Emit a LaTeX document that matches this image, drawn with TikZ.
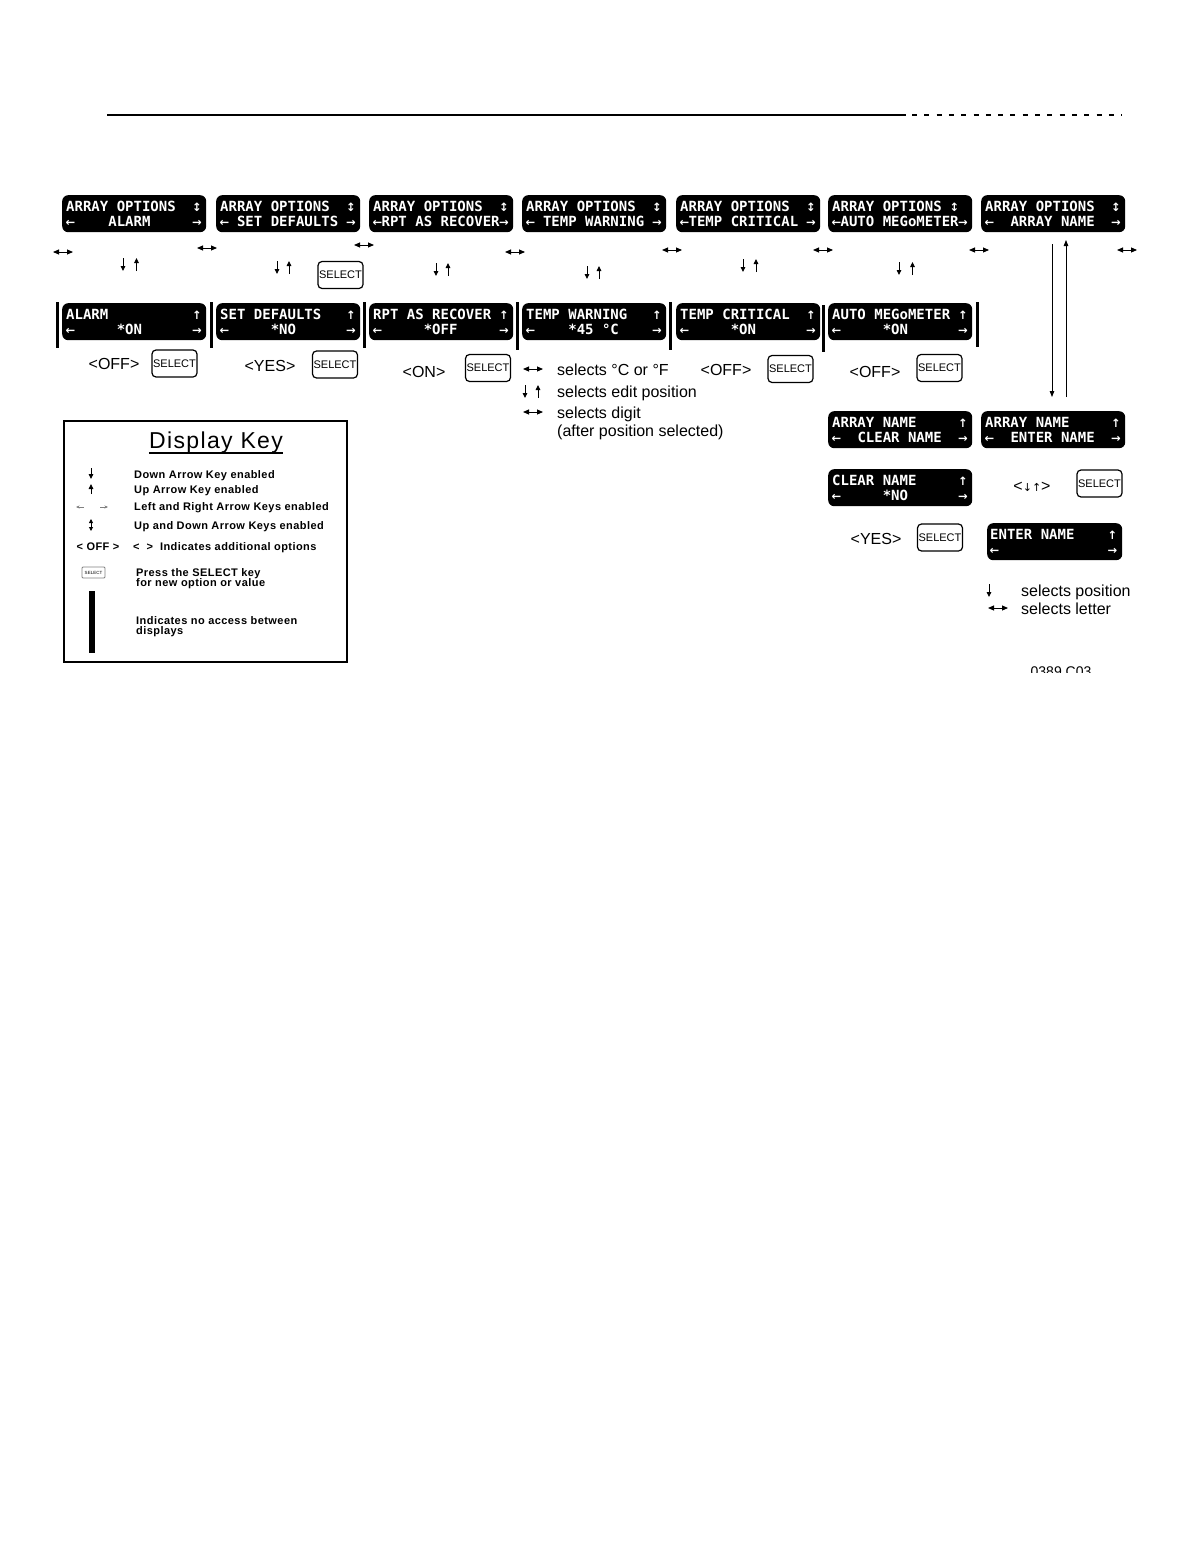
\documentclass[tikz,border=0pt]{standalone}
\usepackage{fontspec}
\setmainfont{Liberation Sans}
\newfontfamily\lcdfont{DejaVu Sans Mono}
\newfontfamily\symfont{DejaVu Sans}
\newfontfamily\keyfont{Liberation Sans}[LetterSpace=4]
\newfontfamily\titlefont{Liberation Sans}[LetterSpace=6]
\usetikzlibrary{arrows.meta}
\newcommand\sps[1]{\hspace*{\dimexpr8.43pt*#1\relax}}
\newcommand\lsym[1]{\makebox[8.43pt][c]{\symfont\bfseries\fontsize{11.5}{12}\selectfont #1}}
\newcommand\la{\lsym{←}}
\newcommand\ra{\lsym{→}}
\newcommand\ua{\lsym{↑}}
\newcommand\ud{\lsym{↕}}
\tikzset{
  lcd/.style={fill=black, rounded corners=6, text=white,
    font=\lcdfont\bfseries\fontsize{14}{15}\selectfont,
    align=left, text width=136, inner xsep=4, inner ysep=0,
    minimum height=37, anchor=north west},
  selbtn/.style={draw, line width=1.2, rounded corners=4, minimum width=45,
    minimum height=27, inner sep=0, font=\fontsize{11}{11}\selectfont},
  lbl/.style={font=\fontsize{16}{17}\selectfont, inner sep=0, anchor=base},
  lgd/.style={font=\fontsize{16}{17}\selectfont, inner sep=0, anchor=base west},
  keytxt/.style={font=\keyfont\bfseries\fontsize{11}{12}\selectfont, inner sep=0, anchor=base west},
  noacc/.style={line width=3},
  dblh/.style={line width=0.9, {Triangle[length=6,width=5]}-{Triangle[length=6,width=5]}},
  varr/.style={line width=0.9, -{Triangle[length=5,width=4.5]}},
  conn/.style={line width=0.8, -{Triangle[length=6,width=4.5]}},
}
\newcommand\hdbl[2]{\draw[dblh] (#1-10,#2) -- (#1+10,#2);}
\newcommand\updn[3]{\draw[varr] (#1,#3) -- (#1,#3+13); \draw[varr] (#2,#3+13) -- (#2,#3);}
\begin{document}
\begin{tikzpicture}[x=1pt,y=-1pt]
\useasboundingbox (0,0) rectangle (1192,1568);

% header rule
\coordinate (r0) at (107,115); \coordinate (r1) at (906,115);
\coordinate (r2) at (912,115); \coordinate (r3) at (1122,115);
\draw[line width=2.6] (r0) -- (r1);
\draw[line width=2.6, dash pattern=on 5 off 7.3] (r2) -- (r3);

% top row
\node[lcd] (t1) at (62,195)  {ARRAY\sps1OPTIONS\sps2\ud\\\la\sps4ALARM\sps5\ra};
\node[lcd] (t2) at (216,195) {ARRAY\sps1OPTIONS\sps2\ud\\\la\sps1SET\sps1DEFAULTS\sps1\ra};
\node[lcd] (t3) at (369,195) {ARRAY\sps1OPTIONS\sps2\ud\\\la RPT\sps1AS\sps1RECOVER\ra};
\node[lcd] (t4) at (522,195) {ARRAY\sps1OPTIONS\sps2\ud\\\la\sps1TEMP\sps1WARNING\sps1\ra};
\node[lcd] (t5) at (676,195) {ARRAY\sps1OPTIONS\sps2\ud\\\la TEMP\sps1CRITICAL\sps1\ra};
\node[lcd] (t6) at (828,195) {ARRAY\sps1OPTIONS\sps1\ud\\\la AUTO\sps1MEGoMETER\ra};
\node[lcd] (t7) at (981,195) {ARRAY\sps1OPTIONS\sps2\ud\\\la\sps2ARRAY\sps1NAME\sps2\ra};

% left/right arrows between top displays
\hdbl{63}{252} \hdbl{207}{248} \hdbl{364}{245} \hdbl{515}{252}
\hdbl{672}{250} \hdbl{823}{250} \hdbl{979}{250} \hdbl{1127}{250}

% up/down pairs
\updn{123}{136.5}{258}
\updn{277}{289}{261}
\updn{436}{448}{263}
\updn{587}{599}{266}
\updn{743}{756}{259}
\updn{899}{912.5}{262}

\node[selbtn] (s0) at (340.5,275) {SELECT};

% second row
\node[lcd] (b1) at (62,303)  {ALARM\sps{10}\ua\\\la\sps5*ON\sps6\ra};
\node[lcd] (b2) at (216,303) {SET\sps1DEFAULTS\sps3\ua\\\la\sps5*NO\sps6\ra};
\node[lcd] (b3) at (369,303) {RPT\sps1AS\sps1RECOVER\sps1\ua\\\la\sps5*OFF\sps5\ra};
\node[lcd] (b4) at (522,303) {TEMP\sps1WARNING\sps3\ua\\\la\sps4*45\sps1°C\sps4\ra};
\node[lcd] (b5) at (676,303) {TEMP\sps1CRITICAL\sps2\ua\\\la\sps5*ON\sps6\ra};
\node[lcd] (b6) at (828,303) {AUTO\sps1MEGoMETER\sps1\ua\\\la\sps5*ON\sps6\ra};

% no-access bars
\foreach \x/\a/\b in {57/302/348, 211/302/348, 364/302/348, 517/302/350,
                     670/302/350, 823/305/352, 977/302/347}
  \draw[noacc] (\x,\a) -- (\x,\b);

% options and select keys
\node[lbl] (o1) at (114,369) {<OFF>};
\node[selbtn] (s1) at (174.5,363.5) {SELECT};
\node[lbl] (o2) at (270,371) {<YES>};
\node[selbtn] (s2) at (335,364.5) {SELECT};
\node[lbl] (o3) at (424,377) {<ON>};
\node[selbtn] (s3) at (488,368) {SELECT};
\node[lbl] (o5) at (726,375) {<OFF>};
\node[selbtn] (s4) at (790.5,369) {SELECT};
\node[lbl] (o6) at (875,377) {<OFF>};
\node[selbtn] (s5) at (939.5,368) {SELECT};

% temp warning legend
\hdbl{533}{369}
\node[lgd] (l1) at (557,375) {selects °C or °F};
\updn{525}{538}{385}
\node[lgd] (l2) at (557,397) {selects edit position};
\hdbl{533}{412}
\node[lgd] (l3) at (557,418) {selects digit};
\node[lgd] (l4) at (557,436) {(after position selected)};

% array name branch
\coordinate (d0) at (1052,244); \coordinate (d1) at (1052,397);
\coordinate (u0) at (1066,397); \coordinate (u1) at (1066,240);
\draw[conn] (d0) -- (d1);
\draw[conn] (u0) -- (u1);

\node[lcd] (an1) at (828,411) {ARRAY\sps1NAME\sps5\ua\\\la\sps2CLEAR\sps1NAME\sps2\ra};
\node[lcd] (an2) at (981,411) {ARRAY\sps1NAME\sps5\ua\\\la\sps2ENTER\sps1NAME\sps2\ra};
\node[lcd] (cn)  at (828,469) {CLEAR\sps1NAME\sps5\ua\\\la\sps5*NO\sps6\ra};
\node[lbl] (o7) at (1032,491) {<{\symfont\fontsize{11}{11}\selectfont ↓↑}>};
\node[selbtn] (s6) at (1099.5,483.5) {SELECT};
\node[lbl] (o8) at (876,544) {<YES>};
\node[selbtn] (s7) at (940,537.5) {SELECT};
\node[lcd, text width=129, inner xsep=3] (en) at (987,523) {ENTER\sps1NAME\sps4\ua\\\la\sps{13}\ra};

\draw[varr] (989,584) -- (989,597);
\node[lgd] (l5) at (1021,596) {selects position};
\hdbl{998}{608}
\node[lgd] (l6) at (1021,614) {selects letter};

\begin{scope}
  \clip (1000,650) rectangle (1150,672);
  \node[font=\fontsize{14}{15}\selectfont, inner sep=0, anchor=base] (fig) at (1061,676) {0389.C03};
\end{scope}

% display key
\node[draw, line width=2, minimum width=283, minimum height=241, anchor=north west, inner sep=0] (key) at (63,420) {};
\node[font=\titlefont\fontsize{23}{24}\selectfont, inner sep=0, anchor=base] (ttl) at (216,448) {Display Key};
\draw[line width=1.6] ([yshift=-5]ttl.base west) -- ([yshift=-5]ttl.base east);

\draw[varr] (91,468) -- (91,479);
\node[keytxt] (k1) at (134,478) {Down Arrow Key enabled};
\draw[varr] (91,494) -- (91,484);
\node[keytxt] (k2) at (134,493) {Up Arrow Key enabled};
\draw[line width=0.5, gray, -{Stealth[length=3.5,width=3]}] (84,507) -- (76,507);
\draw[line width=0.5, gray, -{Stealth[length=3.5,width=3]}] (100,507) -- (108,507);
\node[keytxt] (k3) at (134,510) {Left and Right Arrow Keys enabled};
\draw[line width=0.9, {Triangle[length=4,width=4]}-{Triangle[length=4,width=4]}] (91,519) -- (91,531);
\node[keytxt] (k4) at (134,529) {Up and Down Arrow Keys enabled};
\node[keytxt, anchor=base] (k5a) at (98,550) {<~OFF~>};
\node[keytxt] (k5) at (133,550) {<~~>~~Indicates additional options};
\node[draw=gray, line width=0.8, rounded corners=1, minimum width=23, minimum height=11, inner sep=0,
      font=\fontsize{4.5}{5}\selectfont] (ks) at (93.5,572.5) {SELECT};
\node[keytxt] (k6) at (136,576) {Press the SELECT key};
\node[keytxt] (k7) at (136,586) {for new option or value};
\node[fill=black, minimum width=6, minimum height=62, inner sep=0, anchor=north west] (kbar) at (89,591) {};
\node[keytxt] (k8) at (136,624) {Indicates no access between};
\node[keytxt] (k9) at (136,634) {displays};
\end{tikzpicture}
\end{document}
